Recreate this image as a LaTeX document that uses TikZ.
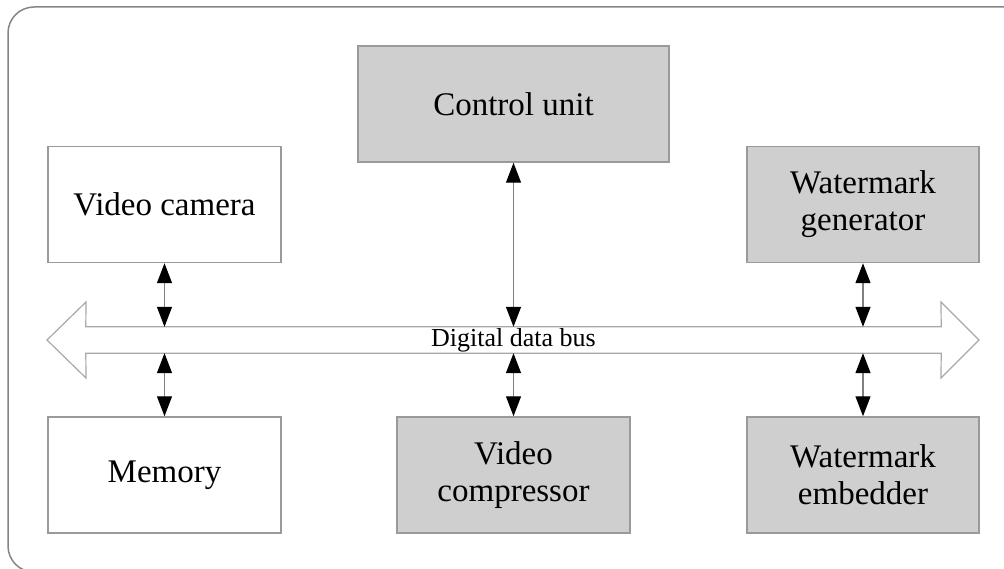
\documentclass[tikz,border=0pt]{standalone}
\usepackage{fontspec}
\setmainfont{Liberation Serif}
\usetikzlibrary{arrows.meta}
\definecolor{boxgray}{HTML}{CFCFCF}
\definecolor{edgegray}{HTML}{9A9A9A}
\definecolor{framegray}{HTML}{858585}
\definecolor{busgray}{HTML}{A8A8A8}
\begin{document}
\begin{tikzpicture}[x=1pt,y=-1pt,
    unit/.style={draw=edgegray, line width=1.5pt, minimum width=233pt, minimum height=116pt,
      inner sep=0pt, align=center, font=\fontsize{33}{37}\selectfont},
    shaded/.style={unit, fill=boxgray},
    link/.style={draw=gray, line width=1.3pt,
      {Triangle[length=20pt,width=15pt,color=black]}-{Triangle[length=20pt,width=15pt,color=black]}}]
    \useasboundingbox (0,0) rectangle (1004,569);
    \clip (0,0) rectangle (1004,569);
    \draw[framegray, line width=1.5pt, rounded corners=26pt] (8,7) rectangle (1040,572);

    \node (ctrl) [shaded, minimum width=311pt] at (513.5,104) {Control unit};
    \node (cam) [unit] at (164.5,204.5) {Video camera};
    \node (wgen) [shaded, minimum width=232pt] at (863,204.5) {Watermark\\generator};
    \node (mem) [unit] at (164.5,475) {Memory};
    \node (comp) [shaded] at (513.5,475) {Video\\compressor};
    \node (wemb) [shaded, minimum width=232pt] at (863,475) {Watermark\\embedder};

    \node (bus) [minimum width=855pt, minimum height=26pt, inner sep=0pt,
      font=\fontsize{26}{28}\selectfont] at (513.5,340) {Digital data bus};
    \draw[busgray, line width=1.2pt] (bus.north west) -- (bus.north east) -- (941,302)
      -- (979,340) -- (941,378) -- (bus.south east) -- (bus.south west) -- (86,378)
      -- (47,340) -- (86,302) -- cycle;

    \draw[link] (cam.south) -- (cam.south |- bus.north);
    \draw[link] (ctrl.south) -- (ctrl.south |- bus.north);
    \draw[link] (wgen.south) -- (wgen.south |- bus.north);
    \draw[link] (mem.north |- bus.south) -- (mem.north);
    \draw[link] (comp.north |- bus.south) -- (comp.north);
    \draw[link] (wemb.north |- bus.south) -- (wemb.north);
\end{tikzpicture}
\end{document}
